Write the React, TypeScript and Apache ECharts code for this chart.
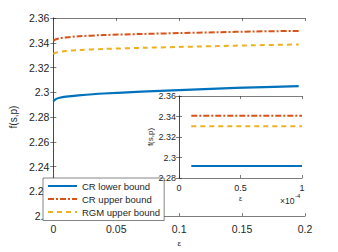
import React, { useEffect, useRef } from "react";
import * as echarts from "echarts";

const epsMain = [0, 0.002, 0.005, 0.01, 0.02, 0.04, 0.07, 0.1, 0.13, 0.16, 0.195];
const crLower = [2.2928, 2.2945, 2.2956, 2.2965, 2.2975, 2.299, 2.3005, 2.3018, 2.303, 2.304, 2.305];
const crUpper = [2.3415, 2.3428, 2.3436, 2.3443, 2.3452, 2.3462, 2.3471, 2.3478, 2.3485, 2.3491, 2.3496];
const rgmUpper = [2.331, 2.332, 2.3326, 2.3333, 2.3341, 2.335, 2.3359, 2.3366, 2.3373, 2.338, 2.3386];

const epsInset = [0.1, 1];
const crLowerInset = [2.2917, 2.2917];
const crUpperInset = [2.3408, 2.3408];
const rgmUpperInset = [2.3304, 2.3304];

const seriesNames = ["CR lower bound", "CR upper bound", "RGM upper bound"];

const BLUE = "#0072BD";
const RED = "#D95319";
const YEL = "#EDB120";
const AX = "#262626";
const FONT = "Liberation Sans, Arial, sans-serif";

const zip = (xs: number[], ys: number[]) => xs.map((x, i) => [x, ys[i]]);

export default function App() {
  const ref = useRef<HTMLDivElement>(null);
  useEffect(() => {
    document.body.style.margin = "0";
    if (!ref.current) return;
    const chart = echarts.init(ref.current, undefined, { renderer: "svg" });
    const axisLine = { show: true, lineStyle: { color: AX, width: 0.6 } };
    const tickIn = { show: true, inside: true, length: 3, lineStyle: { color: AX, width: 0.6 } };
    const fmt = (v: number) => String(Math.round(v * 1000) / 1000);
    const lineStyles = [
      { color: BLUE, width: 2.2, type: "solid" as any },
      { color: RED, width: 2, type: [6, 2, 2, 2] as any },
      { color: YEL, width: 2, type: [5, 4] as any },
    ];
    const mainData = [crLower, crUpper, rgmUpper];
    const insetData = [crLowerInset, crUpperInset, rgmUpperInset];
    const colors = [BLUE, RED, YEL];
    chart.setOption({
      animation: false,
      textStyle: { fontFamily: FONT },
      grid: [
        { left: 43, top: 18, width: 262, height: 201, show: false },
        {
          left: 179, top: 96, width: 123, height: 82, show: true,
          backgroundColor: "#fff", borderWidth: 0, z: 6,
        },
      ],
      xAxis: [
        {
          gridIndex: 0, type: "value", min: 0, max: 0.2, interval: 0.05,
          axisLine, axisTick: tickIn, splitLine: { show: false },
          axisLabel: { color: AX, fontSize: 10.5, margin: 7, formatter: fmt },
          name: "ε", nameLocation: "middle", nameGap: 21,
          nameTextStyle: { color: AX, fontSize: 8 },
        },
        {
          gridIndex: 0, type: "value", position: "top", min: 0, max: 0.2, interval: 0.05,
          axisLine, axisTick: tickIn, splitLine: { show: false }, axisLabel: { show: false },
        },
        {
          gridIndex: 1, type: "value", min: 0, max: 1, interval: 0.5, z: 7,
          axisLine, axisTick: tickIn, splitLine: { show: false },
          axisLabel: { color: AX, fontSize: 9, margin: 5, formatter: fmt },
          name: "ε", nameLocation: "middle", nameGap: 17,
          nameTextStyle: { color: AX, fontSize: 7 },
        },
        {
          gridIndex: 1, type: "value", position: "top", min: 0, max: 1, interval: 0.5, z: 7,
          axisLine, axisTick: tickIn, splitLine: { show: false }, axisLabel: { show: false },
        },
      ],
      yAxis: [
        {
          gridIndex: 0, type: "value", min: 2.2, max: 2.36, interval: 0.02,
          axisLine, axisTick: tickIn, splitLine: { show: false },
          axisLabel: { color: AX, fontSize: 10.5, margin: 4, formatter: fmt },
          name: "f(s,p)", nameLocation: "middle", nameGap: 31,
          nameTextStyle: { color: AX, fontSize: 10 },
        },
        {
          gridIndex: 0, type: "value", position: "right", min: 2.2, max: 2.36, interval: 0.02,
          axisLine, axisTick: tickIn, splitLine: { show: false }, axisLabel: { show: false },
        },
        {
          gridIndex: 1, type: "value", min: 2.28, max: 2.36, interval: 0.02, z: 7,
          axisLine, axisTick: tickIn, splitLine: { show: false },
          axisLabel: { color: AX, fontSize: 9, margin: 3, formatter: fmt },
          name: "f(s,p)", nameLocation: "middle", nameGap: 24,
          nameTextStyle: { color: AX, fontSize: 8 },
        },
        {
          gridIndex: 1, type: "value", position: "right", min: 2.28, max: 2.36, interval: 0.02, z: 7,
          axisLine, axisTick: tickIn, splitLine: { show: false }, axisLabel: { show: false },
        },
      ],
      legend: {
        data: seriesNames,
        orient: "vertical",
        left: 43, top: 178,
        padding: [1.5, 4, 2, 4],
        itemWidth: 29, itemHeight: 8, itemGap: 0,
        itemStyle: { opacity: 0, borderWidth: 0 },
        backgroundColor: "#fff",
        borderColor: "#333", borderWidth: 0.6, borderRadius: 0,
        textStyle: { color: AX, fontSize: 9.5, lineHeight: 13, fontFamily: FONT },
        z: 4,
      },
      graphic: [
        { type: "text", left: 280, top: 196, z: 20, style: { text: "×10", fontSize: 8.5, fill: AX, fontFamily: FONT } },
        { type: "text", left: 295, top: 193, z: 20, style: { text: "-4", fontSize: 6, fill: AX, fontFamily: FONT } },
      ],
      series: [
        ...mainData.map((d, i) => ({
          name: seriesNames[i], type: "line", xAxisIndex: 0, yAxisIndex: 0,
          data: zip(epsMain, d), symbol: "none", smooth: 0.3,
          lineStyle: lineStyles[i], itemStyle: { color: colors[i] }, z: 2,
        })),
        ...insetData.map((d, i) => ({
          name: seriesNames[i], type: "line", xAxisIndex: 2, yAxisIndex: 2,
          data: zip(epsInset, d), symbol: "none",
          lineStyle: lineStyles[i], itemStyle: { color: colors[i] }, z: 8,
        })),
      ],
    });
    return () => chart.dispose();
  }, []);
  return <div ref={ref} style={{ width: 338, height: 252 }} />;
}
